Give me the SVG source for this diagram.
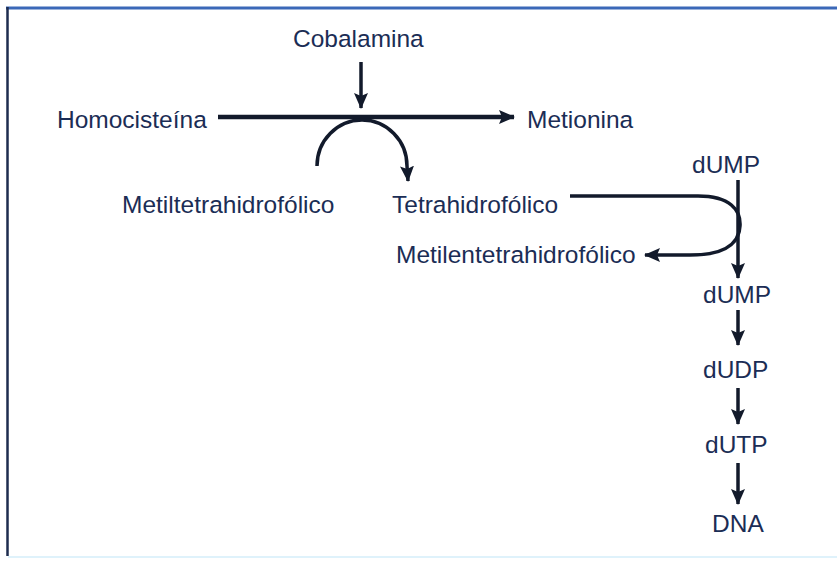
<svg xmlns="http://www.w3.org/2000/svg" width="837" height="561" viewBox="0 0 837 561">
<defs>
<style>
.t{font-family:"Liberation Sans",Arial,sans-serif;font-size:24.5px;fill:#1b2d55;}
.c{fill:none;stroke:#121a2b;stroke-width:3.5;}
.thick{stroke-width:4.5;}
</style>
<marker id="ah" markerUnits="userSpaceOnUse" markerWidth="16" markerHeight="14" viewBox="0 0 16 14" refX="15" refY="7" orient="auto">
<path d="M0,0 L16,7 L0,14 L3,7 Z" fill="#121a2b"/>
</marker>
</defs>
<rect x="0" y="0" width="837" height="561" fill="#ffffff"/>
<g id="frame">
<line x1="6" y1="8" x2="837" y2="8" stroke="#3b68b8" stroke-width="3"/>
<line x1="7.5" y1="7" x2="7.5" y2="556" stroke="#1e2d4f" stroke-width="2.5"/>
<line x1="8" y1="557" x2="837" y2="557" stroke="#dff2fb" stroke-width="2"/>
</g>
<g id="connectors">
<path class="c" d="M361,62 L361,108" marker-end="url(#ah)"/>
<path class="c thick" d="M218,117 L514,117" marker-end="url(#ah)"/>
<path class="c" d="M317,166 A45,46 0 0 1 407,166 L408,181" marker-end="url(#ah)"/>
<path class="c" d="M570,196 L698,196 C730,196 741,210 740,226 C739,246 722,255 690,255 L645,255" marker-end="url(#ah)"/>
<path class="c" d="M738,180 L738,278" marker-end="url(#ah)"/>
<path class="c" d="M738,310 L738,345" marker-end="url(#ah)"/>
<path class="c" d="M738,388 L738,424" marker-end="url(#ah)"/>
<path class="c" d="M738,463 L738,504" marker-end="url(#ah)"/>
</g>
<g id="n-cobalamina"><text class="t" x="293" y="47">Cobalamina</text></g>
<g id="n-homocisteina"><text class="t" x="57" y="128">Homocisteína</text></g>
<g id="n-metionina"><text class="t" x="527" y="128">Metionina</text></g>
<g id="n-metiltetrahidrofolico"><text class="t" x="122" y="213">Metiltetrahidrofólico</text></g>
<g id="n-tetrahidrofolico"><text class="t" x="392" y="213">Tetrahidrofólico</text></g>
<g id="n-metilentetrahidrofolico"><text class="t" x="396" y="263">Metilentetrahidrofólico</text></g>
<g id="n-dump1"><text class="t" x="692" y="173">dUMP</text></g>
<g id="n-dump2"><text class="t" x="703" y="303">dUMP</text></g>
<g id="n-dudp"><text class="t" x="703" y="378">dUDP</text></g>
<g id="n-dutp"><text class="t" x="705" y="453">dUTP</text></g>
<g id="n-dna"><text class="t" x="712" y="532">DNA</text></g>
</svg>
